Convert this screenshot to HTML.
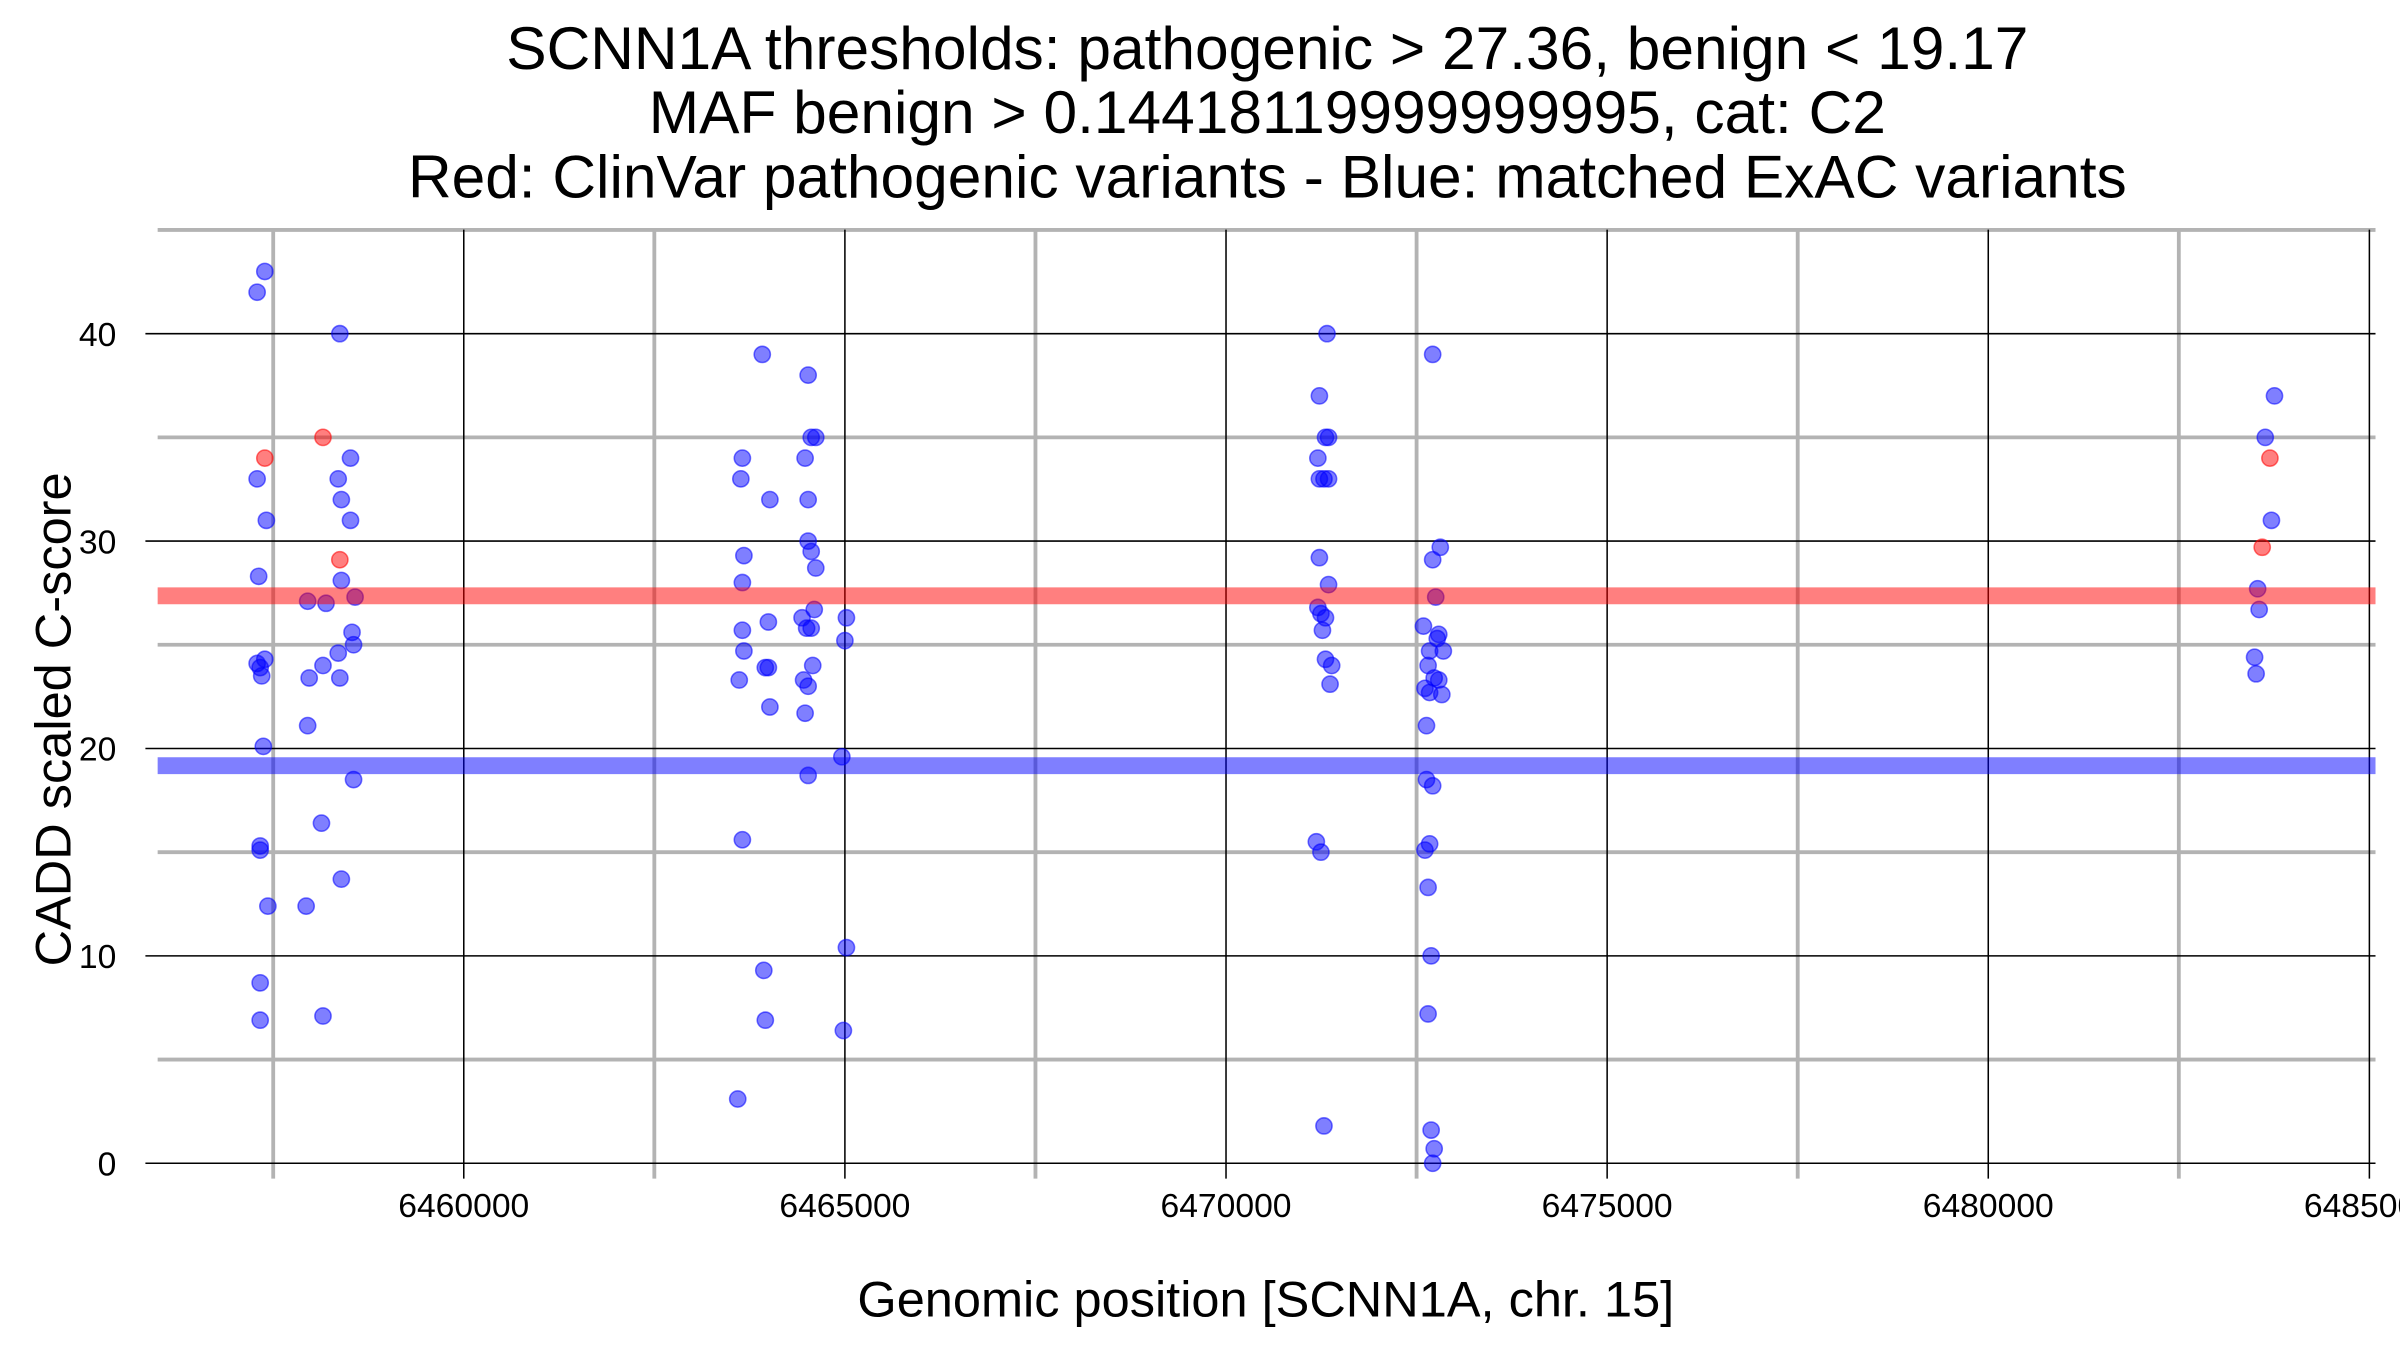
<!DOCTYPE html>
<html><head><meta charset="utf-8"><style>
html,body{margin:0;padding:0;background:#fff;}
svg{display:block;font-family:"Liberation Sans",Arial,sans-serif;}
</style></head><body>
<svg id="chart" width="2400" height="1350" viewBox="0 0 1568 882" xmlns="http://www.w3.org/2000/svg">
<g font-size="39.5" text-anchor="middle" fill="#000">
<text x="828" y="45">SCNN1A thresholds: pathogenic &gt; 27.36, benign &lt; 19.17</text>
<text x="828" y="87">MAF benign &gt; 0.14418119999999995, cat: C2</text>
<text x="828" y="129">Red: ClinVar pathogenic variants - Blue: matched ExAC variants</text>
</g>
<g id="grid"></g>
<g id="ticks"></g>
<g id="points"></g>
<g id="bands"></g>
<text x="827" y="860" font-size="33" text-anchor="middle">Genomic position [SCNN1A, chr. 15]</text>
<text transform="translate(46,470) rotate(-90)" font-size="33" text-anchor="middle">CADD scaled C-score</text>
</svg>
<script>
const xTickValues = [6460000, 6465000, 6470000, 6475000, 6480000, 6485000];
const xTickLabels = ["6460000", "6465000", "6470000", "6475000", "6480000", "6485000"];
const xMinorValues = [6457500, 6462500, 6467500, 6472500, 6477500, 6482500];
const yTickValues = [0, 10, 20, 30, 40];
const yTickLabels = ["0", "10", "20", "30", "40"];
const yMinorValues = [5, 15, 25, 35, 45];
const pathogenicThreshold = 27.36;
const benignThreshold = 19.17;
const blueX = [6457390,6457289,6458374,6457289,6458514,6458353,6458394,6457410,6458514,6457309,6458394,6457952,6458193,6458574,6458534,6458554,6458353,6458153,6457972,6458374,6457289,6457329,6457390,6457349,6457952,6457370,6458554,6458133,6457329,6457329,6458394,6457430,6457932,6457329,6457329,6458153,
6463916,6464518,6464558,6464618,6463655,6464478,6463635,6464016,6464518,6464518,6464558,6464618,6463675,6463655,6464598,6464438,6465020,6463996,6463655,6464498,6464558,6463675,6464578,6463956,6463996,6464458,6464518,6463614,6465000,6464016,6464478,6464960,6464518,6463655,6465020,6463936,6463956,6464980,6463594,
6471325,6471225,6471305,6471345,6471205,6471225,6471285,6471345,6471225,6471345,6471205,6471245,6471305,6471265,6471305,6471386,6471365,6471185,6471245,6471285,
6472711,6472811,6472711,6472751,6472590,6472791,6472771,6472851,6472671,6472651,6472731,6472791,6472610,6472671,6472831,6472630,6472630,6472711,6472671,6472610,6472651,6472691,6472651,6472691,6472731,6472711,
6483755,6483634,6483715,6483534,6483554,6483494,6483514];
const blueY = [43,42,40,33,34,33,32,31,31,28.3,28.1,27.1,27,27.3,25.6,25,24.6,24,23.4,23.4,24.1,23.9,24.3,23.5,21.1,20.1,18.5,16.4,15.3,15.1,13.7,12.4,12.4,8.7,6.9,7.1,
39,38,35,35,34,34,33,32,32,30,29.5,28.7,29.3,28,26.7,26.3,26.3,26.1,25.7,25.8,25.8,24.7,24,23.9,23.9,23.3,23,23.3,25.2,22,21.7,19.6,18.7,15.6,10.4,9.3,6.9,6.4,3.1,
40,37,35,35,34,33,33,33,29.2,27.9,26.8,26.5,26.3,25.7,24.3,24,23.1,15.5,15,1.8,
39,29.7,29.1,27.3,25.9,25.5,25.3,24.7,24.7,24,23.4,23.3,22.9,22.7,22.6,21.1,18.5,18.2,15.4,15.1,13.3,10,7.2,1.6,0.7,0,
37,35,31,27.7,26.7,24.4,23.6];
const redX = [6457390, 6458153, 6458374, 6483695, 6483594];
const redY = [34, 35, 29.1, 34, 29.7];

const NS = "http://www.w3.org/2000/svg";
function xs(v){ return 303 + (v - 6460000) * 249 / 5000; }
function ys(v){ return 760 - v * 13.55; }
function mk(tag, attrs, parent){ const e = document.createElementNS(NS, tag); for (const k in attrs) e.setAttribute(k, attrs[k]); parent.appendChild(e); return e; }
const grid = document.getElementById('grid');
const ticks = document.getElementById('ticks');
yMinorValues.forEach(v => {
  const l = mk('line', {x1: 103, x2: 1552, y1: ys(v), y2: ys(v), stroke: '#b3b3b3', 'stroke-width': 2.5}, grid);
  
  
});
xMinorValues.forEach(v => {
  const l = mk('line', {x1: xs(v), x2: xs(v), y1: 150, y2: 770, stroke: '#b3b3b3', 'stroke-width': 2.5}, grid);
  
  
});
yTickValues.forEach((v, i) => {
  const l = mk('line', {x1: 95, x2: 1552, y1: ys(v), y2: ys(v), stroke: '#000', 'stroke-width': 1}, grid);
  
  
  const t = mk('text', {x: 76, y: ys(v) + 8, 'font-size': 22, 'text-anchor': 'end'}, ticks);
  t.textContent = yTickLabels[i];
  
  
});
xTickValues.forEach((v, i) => {
  const l = mk('line', {x1: xs(v), x2: xs(v), y1: 150, y2: 770, stroke: '#000', 'stroke-width': 1}, grid);
  
  
  const t = mk('text', {x: xs(v), y: 795, 'font-size': 22, 'text-anchor': 'middle'}, ticks);
  t.textContent = xTickLabels[i];
  
  
});
const pts = document.getElementById('points');
blueX.forEach((x, i) => {
  const c = mk('circle', {cx: xs(x), cy: ys(blueY[i]), r: 5.3, fill: 'rgba(0,0,255,0.5)', stroke: 'rgba(0,0,255,0.55)', 'stroke-width': 1}, pts);
  
  
});
redX.forEach((x, i) => {
  const c = mk('circle', {cx: xs(x), cy: ys(redY[i]), r: 5.3, fill: 'rgba(255,0,0,0.5)', stroke: 'rgba(255,0,0,0.55)', 'stroke-width': 1}, pts);
  
  
});
const bands = document.getElementById('bands');
const rb = mk('line', {x1: 103, x2: 1552, y1: ys(pathogenicThreshold), y2: ys(pathogenicThreshold), stroke: 'rgba(255,0,0,0.5)', 'stroke-width': 11}, bands);


const bb = mk('line', {x1: 103, x2: 1552, y1: ys(benignThreshold), y2: ys(benignThreshold), stroke: 'rgba(0,0,255,0.5)', 'stroke-width': 11}, bands);


</script>
</body></html>
